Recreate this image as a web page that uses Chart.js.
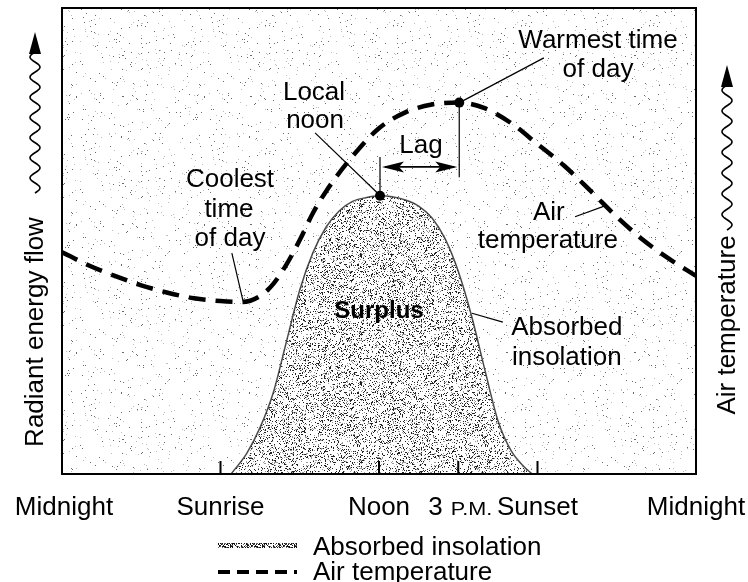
<!DOCTYPE html>
<html>
<head>
<meta charset="utf-8">
<title>Daily radiation and air temperature</title>
<script src="https://cdn.jsdelivr.net/npm/chart.js@4.4.1/dist/chart.umd.min.js"></script>
<style>
  html, body { margin: 0; padding: 0; background: #fff; }
  canvas { display: block; }
</style>
</head>
<body>
<canvas id="chart" width="748" height="582"></canvas>
<script>
// x is hours after midnight, y is a relative 0-100 scale

const tickHours = [0, 6, 12, 15, 18, 24];
const tickLabels = ['Midnight', 'Sunrise', 'Noon', '3 P.M.', 'Sunset', 'Midnight'];

const insolHours = [6.4, 7, 7.5, 8, 8.5, 9, 9.5, 10, 10.5, 11, 11.5, 12, 12.5, 13, 13.5, 14, 14.5, 15, 15.5, 16, 16.5, 17, 17.5, 17.8];
const insolValues = [0, 4.5, 10, 17.5, 28.5, 39.5, 47.5, 53, 56.5, 58.5, 59.3, 59.7, 59.5, 58.8, 57.5, 55, 50.5, 43.5, 34, 22.5, 11.5, 5, 1.5, 0];

const tempHours = [0, 1, 2, 3, 4, 5, 6, 6.8, 7.5, 8, 8.5, 9, 9.5, 10, 11, 12, 13, 14, 15, 16, 17, 18, 19, 20, 21, 22, 23, 24];
const tempValues = [47.6, 44.8, 42.5, 40.5, 38.9, 37.7, 37.1, 36.9, 38.2, 40.8, 45, 50.2, 56, 60.7, 68.2, 74.2, 77.6, 79.3, 79.7, 78.5, 75.3, 70.8, 66.2, 60.8, 55.2, 50.2, 46.1, 42.5];

const seriesNames = ['Absorbed insolation', 'Air temperature'];
const leftTitle = 'Radiant energy flow';
const rightTitle = 'Air temperature';

const NOON = 12;
const WARMEST = 15;

const FONT = '"Liberation Sans", Arial, Helvetica, sans-serif';

// text callouts, placed in hour / value units
const callouts = [
  { text: 'Local', h: 9.54, v: 80.3 },
  { text: 'noon', h: 9.58, v: 74.2 },
  { text: 'Coolest', h: 6.36, v: 61.6 },
  { text: 'time', h: 6.32, v: 55.2 },
  { text: 'of day', h: 6.36, v: 48.9 },
  { text: 'Warmest time', h: 20.29, v: 91.4 },
  { text: 'of day', h: 20.29, v: 85.2 },
  { text: 'Lag', h: 13.59, v: 68.9 },
  { text: 'Air', h: 18.43, v: 54.5 },
  { text: 'temperature', h: 18.39, v: 48.5 },
  { text: 'Surplus', h: 12.0, v: 33.5, bold: true },
  { text: 'Absorbed', h: 19.11, v: 29.8 },
  { text: 'insolation', h: 19.11, v: 23.4 }
];

// leader lines [h1, v1, h2, v2]
const leaders = [
  [9.58, 73.2, 12.05, 59.7],
  [6.43, 47.4, 6.85, 37.2],
  [18.24, 89.3, 15.05, 79.7],
  [19.42, 55.2, 20.63, 57.7],
  [15.52, 34.5, 16.69, 32.6]
];

// deterministic speckle texture
function stipple(size, layers, bg) {
  const c = document.createElement('canvas');
  c.width = c.height = size;
  const g = c.getContext('2d');
  if (bg) { g.fillStyle = bg; g.fillRect(0, 0, size, size); }
  let s = 20211;
  const rnd = () => { s = (s * 1103515245 + 12345) & 0x7fffffff; return s / 0x7fffffff; };
  layers.forEach(([color, count]) => {
    g.fillStyle = color;
    for (let i = 0; i < count; i++) {
      g.fillRect(Math.floor(rnd() * size), Math.floor(rnd() * size), 1, 1);
    }
  });
  return document.getElementById('chart').getContext('2d').createPattern(c, 'repeat');
}

const bgTexture = stipple(128, [['#6a6a6a', 170], ['#bdbdbd', 170]], '#fff');
const fillTexture = stipple(128, [['#222', 2700], ['#999', 1600]], '#fff');
const swatchTexture = stipple(32, [['#111', 560], ['#666', 200]], '#fff');

function wavyArrow(ctx, x, yBottom, yTip) {
  const head = 20, amp = 5;
  const len = yBottom - (yTip + head);
  const n = Math.round(len / 20);
  const wl = len / n;
  ctx.beginPath();
  for (let d = 0; d <= len; d++) {
    const px = x + amp * Math.sin(d / wl * Math.PI * 2);
    const py = yBottom - d;
    if (d === 0) ctx.moveTo(px, py); else ctx.lineTo(px, py);
  }
  ctx.lineWidth = 1.6;
  ctx.strokeStyle = '#000';
  ctx.stroke();
  ctx.beginPath();
  ctx.moveTo(x, yTip);
  ctx.lineTo(x - 6, yTip + head + 2);
  ctx.lineTo(x + 6, yTip + head + 2);
  ctx.closePath();
  ctx.fillStyle = '#000';
  ctx.fill();
}

function arrowHead(ctx, x, y, dir) {
  ctx.beginPath();
  ctx.moveTo(x, y);
  ctx.lineTo(x - dir * 22, y - 5.5);
  ctx.lineTo(x - dir * 17, y);
  ctx.lineTo(x - dir * 22, y + 5.5);
  ctx.closePath();
  ctx.fill();
}

function tickLabel(ctx, label, x, y) {
  const m = label.match(/^(\S+) (P\.M\.|A\.M\.)$/);
  ctx.font = '26px ' + FONT;
  if (!m) {
    ctx.textAlign = 'center';
    ctx.fillText(label, x, y);
    return;
  }
  // number full size, P.M. in small capitals
  ctx.textAlign = 'left';
  const w1 = ctx.measureText(m[1]).width + 8;
  ctx.font = '18px ' + FONT;
  const w2 = ctx.measureText(m[2]).width * 1.2;
  const left = x - (w1 + w2) / 2 + 2;
  ctx.font = '26px ' + FONT;
  ctx.fillText(m[1], left, y);
  ctx.save();
  ctx.translate(left + w1, y);
  ctx.scale(1.2, 1);
  ctx.font = '18px ' + FONT;
  ctx.fillText(m[2], 0, 0);
  ctx.restore();
}

const diagram = {
  id: 'diagram',
  beforeDraw(chart) {
    const { ctx, chartArea: a } = chart;
    ctx.save();
    ctx.fillStyle = '#fff';
    ctx.fillRect(0, 0, chart.width, chart.height);
    ctx.fillStyle = bgTexture;
    ctx.fillRect(a.left, a.top, a.right - a.left, a.bottom - a.top);
    ctx.restore();
  },
  afterDatasetsDraw(chart) {
    const { ctx, chartArea: a } = chart;
    const xs = chart.scales.x, ys = chart.scales.y;
    const px = h => xs.getPixelForValue(h);
    const py = v => ys.getPixelForValue(v);
    ctx.save();

    // frame
    ctx.strokeStyle = '#000';
    ctx.lineWidth = 2;
    ctx.strokeRect(a.left, a.top, a.right - a.left, a.bottom - a.top);

    // inward tick marks for the inner hours
    ctx.lineWidth = 2;
    tickHours.forEach(h => {
      if (h <= xs.min || h >= xs.max) return;
      ctx.beginPath();
      ctx.moveTo(px(h), a.bottom);
      ctx.lineTo(px(h), a.bottom - 13);
      ctx.stroke();
    });

    // leader lines
    ctx.lineWidth = 1.2;
    leaders.forEach(([h1, v1, h2, v2]) => {
      ctx.beginPath();
      ctx.moveTo(px(h1), py(v1));
      ctx.lineTo(px(h2), py(v2));
      ctx.stroke();
    });

    // lag markers
    const noonV = insolValues[insolHours.indexOf(NOON)];
    const warmV = tempValues[tempHours.indexOf(WARMEST)];
    const lagV = 65.9;
    ctx.lineWidth = 1.2;
    ctx.beginPath();
    ctx.moveTo(px(NOON) + 1, py(noonV));
    ctx.lineTo(px(NOON) + 1, py(68));
    ctx.moveTo(px(WARMEST) + 1, py(warmV));
    ctx.lineTo(px(WARMEST) + 1, py(63.7));
    ctx.stroke();
    ctx.lineWidth = 1.6;
    ctx.beginPath();
    ctx.moveTo(px(NOON) + 6, py(lagV));
    ctx.lineTo(px(WARMEST) - 4, py(lagV));
    ctx.stroke();
    ctx.fillStyle = '#000';
    arrowHead(ctx, px(NOON) + 3, py(lagV), -1);
    arrowHead(ctx, px(WARMEST) - 1, py(lagV), 1);

    // dots at local noon and warmest time
    [[NOON, noonV], [WARMEST, warmV]].forEach(([h, v]) => {
      ctx.beginPath();
      ctx.arc(px(h) + 1, py(v), 5, 0, Math.PI * 2);
      ctx.fill();
    });

    // callout text
    ctx.textAlign = 'center';
    ctx.textBaseline = 'alphabetic';
    callouts.forEach(c => {
      ctx.font = (c.bold ? 'bold 24px ' : '26px ') + FONT;
      ctx.fillText(c.text, px(c.h), py(c.v));
    });

    ctx.restore();
  },
  afterDraw(chart) {
    const { ctx, chartArea: a } = chart;
    const xs = chart.scales.x;
    ctx.save();
    ctx.fillStyle = '#000';
    ctx.textBaseline = 'alphabetic';

    // x labels under the frame
    tickHours.forEach((h, i) => tickLabel(ctx, tickLabels[i], xs.getPixelForValue(h) + (i === 0 ? 2 : 0), a.bottom + 41));

    // vertical titles with wavy arrows
    ctx.font = '26px ' + FONT;
    ctx.textAlign = 'center';
    ctx.save();
    ctx.translate(43, 332);
    ctx.rotate(-Math.PI / 2);
    ctx.fillText(leftTitle, 0, 0);
    ctx.restore();
    ctx.save();
    ctx.translate(735, 325);
    ctx.rotate(-Math.PI / 2);
    ctx.fillText(rightTitle, 0, 0);
    ctx.restore();
    wavyArrow(ctx, 35, 193, 32);
    wavyArrow(ctx, 727, 230, 65);

    // legend
    const ds = chart.data.datasets;
    const lx = 218, lw = 79;
    ctx.fillStyle = swatchTexture;
    ctx.fillRect(lx, 543, lw, 5);
    ctx.strokeStyle = '#000';
    ctx.lineWidth = 4;
    ctx.setLineDash([12, 7]);
    ctx.beginPath();
    ctx.moveTo(lx, 572);
    ctx.lineTo(lx + lw, 572);
    ctx.stroke();
    ctx.setLineDash([]);
    ctx.fillStyle = '#000';
    ctx.textAlign = 'left';
    ctx.font = '26px ' + FONT;
    ctx.fillText(ds[0].label, 313, 555);
    ctx.fillText(ds[1].label, 313, 580);

    ctx.restore();
  }
};

new Chart(document.getElementById('chart'), {
  type: 'line',
  data: {
    datasets: [
      {
        label: seriesNames[0],
        data: insolHours.map((h, i) => ({ x: h, y: insolValues[i] })),
        borderColor: 'rgba(45,45,45,0.85)',
        borderWidth: 1.5,
        backgroundColor: fillTexture,
        fill: 'origin',
        pointRadius: 0,
        cubicInterpolationMode: 'monotone',
        order: 1
      },
      {
        label: seriesNames[1],
        data: tempHours.map((h, i) => ({ x: h, y: tempValues[i] })),
        borderColor: '#000',
        borderWidth: 4.5,
        borderDash: [17, 10],
        fill: false,
        pointRadius: 0,
        cubicInterpolationMode: 'monotone',
        order: 0
      }
    ]
  },
  options: {
    responsive: false,
    animation: false,
    events: [],
    layout: { padding: { left: 62, right: 52, top: 8, bottom: 108 } },
    plugins: {
      legend: { display: false },
      tooltip: { enabled: false }
    },
    scales: {
      x: { type: 'linear', min: 0, max: 24, display: false },
      y: { type: 'linear', min: 0, max: 100, display: false }
    }
  },
  plugins: [diagram]
});
</script>
</body>
</html>
